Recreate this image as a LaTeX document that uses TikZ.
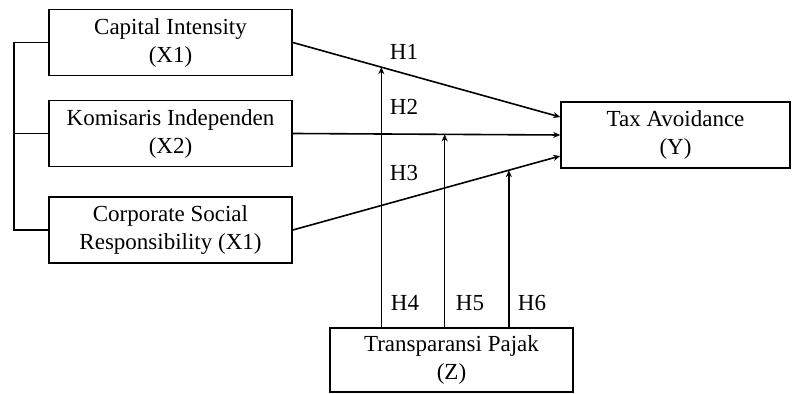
\documentclass[tikz,border=0pt]{standalone}
\usepackage{fontspec}
\setmainfont{Liberation Serif}
\usetikzlibrary{calc,arrows.meta}
\begin{document}
\begin{tikzpicture}[x=0.5pt,y=-0.5pt,line width=0.8pt,font=\fontsize{11.5}{14}\selectfont,
        var/.style={draw,minimum width=121.5pt,minimum height=33pt,align=center,inner sep=1pt},
        link/.style={-{Stealth[length=3.5pt,width=3pt]}}]
        \useasboundingbox (0,0) rectangle (792,394);
        \node[var] (x1) at (170.5,42.5) {Capital Intensity\\(X1)};
        \node[var] (x2) at (170.5,133.5) {Komisaris Independen\\(X2)};
        \node[var] (x3) at (170.5,230) {Corporate Social\\Responsibility (X1)};
        \node[var,minimum width=114.5pt] (y) at (675.5,135) {Tax Avoidance\\(Y)};
        \node[var,minimum height=32pt] (z) at (451.5,360) {Transparansi Pajak\\(Z)};
        % bracket on the left
        \draw (x1.west) -- ++(-34,0) |- (x3.west);
        \draw (x2.west) -- ++(-34,0);
        % direct paths
        \coordinate (y1) at ($(y.west)+(0,-18)$);
        \coordinate (y3) at ($(y.west)+(0,21)$);
        \draw[link] (x1.east) -- (y1);
        \draw[link] (x2.east) -- (y.west);
        \draw[link] (x3.east) -- (y3);
        % moderating paths
        \coordinate (m1) at ($(x1.east)!0.331!(y1)$);
        \coordinate (m2) at ($(x2.east)!0.568!(y.west)$);
        \coordinate (m3) at ($(x3.east)!0.808!(y3)$);
        \draw[link] (z.north -| m1) -- (m1);
        \draw[link] (z.north -| m2) -- (m2);
        \draw[link] (z.north -| m3) -- (m3);
        \node (h1) at (404,52) {H1};
        \node (h2) at (404,107) {H2};
        \node (h3) at (404,173) {H3};
        \node (h4) at (405,303) {H4};
        \node (h5) at (470,303) {H5};
        \node (h6) at (532,303) {H6};
    \end{tikzpicture}
\end{document}
